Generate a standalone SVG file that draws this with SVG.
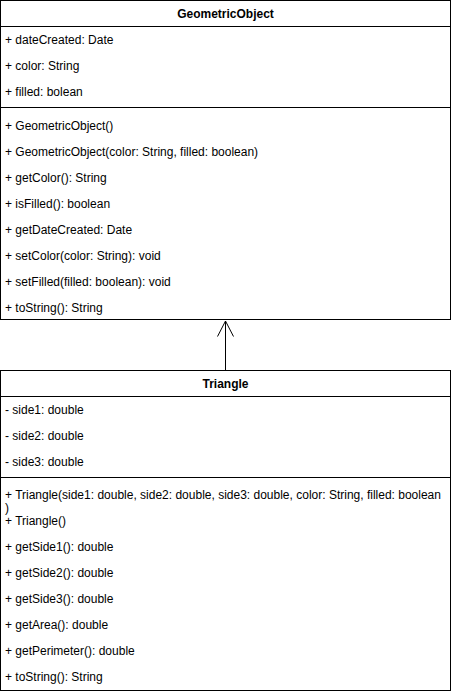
<svg xmlns="http://www.w3.org/2000/svg" width="451" height="694" viewBox="0 0 451 694">
<style>
.box{fill:#fff;stroke:#000;stroke-width:1}
.sep{stroke:#000;stroke-width:1;fill:none}
text{font-family:"Liberation Sans",Arial,Helvetica,sans-serif;font-size:12px;fill:#000}
.title{font-weight:bold;text-anchor:middle}
.conn{stroke:#000;stroke-width:1;fill:none}
</style>
<rect width="451" height="694" fill="#fff"/>
<g id="connectors">
<line class="conn" x1="225.5" y1="370" x2="225.5" y2="321"/>
<polyline class="conn" points="217.5,336.5 225.5,321 233.5,336.5"/>
</g>
<g id="GeometricObject">
<rect class="box" x="0.5" y="0.5" width="450" height="319"/>
<line class="sep" x1="0.5" y1="26.5" x2="450.5" y2="26.5"/>
<line class="sep" x1="0.5" y1="107.5" x2="450.5" y2="107.5"/>
<text class="title" x="225.5" y="18">GeometricObject</text>
<text x="5" y="44">+ dateCreated: Date</text>
<text x="5" y="70">+ color: String</text>
<text x="5" y="96">+ filled: bolean</text>
<text x="5" y="130">+ GeometricObject()</text>
<text x="5" y="156">+ GeometricObject(color: String, filled: boolean)</text>
<text x="5" y="182">+ getColor(): String</text>
<text x="5" y="208">+ isFilled(): boolean</text>
<text x="5" y="234">+ getDateCreated: Date</text>
<text x="5" y="260">+ setColor(color: String): void</text>
<text x="5" y="286">+ setFilled(filled: boolean): void</text>
<text x="5" y="312">+ toString(): String</text>
</g>
<g id="Triangle">
<rect class="box" x="0.5" y="370.5" width="450" height="320"/>
<line class="sep" x1="0.5" y1="396.5" x2="450.5" y2="396.5"/>
<line class="sep" x1="0.5" y1="477.5" x2="450.5" y2="477.5"/>
<text class="title" x="225.5" y="388">Triangle</text>
<text x="5" y="414">- side1: double</text>
<text x="5" y="440">- side2: double</text>
<text x="5" y="466">- side3: double</text>
<text x="5" y="499">+ Triangle(side1: double, side2: double, side3: double, color: String, filled: boolean</text>
<text x="5" y="512">)</text>
<text x="5" y="525">+ Triangle()</text>
<text x="5" y="551">+ getSide1(): double</text>
<text x="5" y="577">+ getSide2(): double</text>
<text x="5" y="603">+ getSide3(): double</text>
<text x="5" y="629">+ getArea(): double</text>
<text x="5" y="655">+ getPerimeter(): double</text>
<text x="5" y="681">+ toString(): String</text>
</g>
</svg>
